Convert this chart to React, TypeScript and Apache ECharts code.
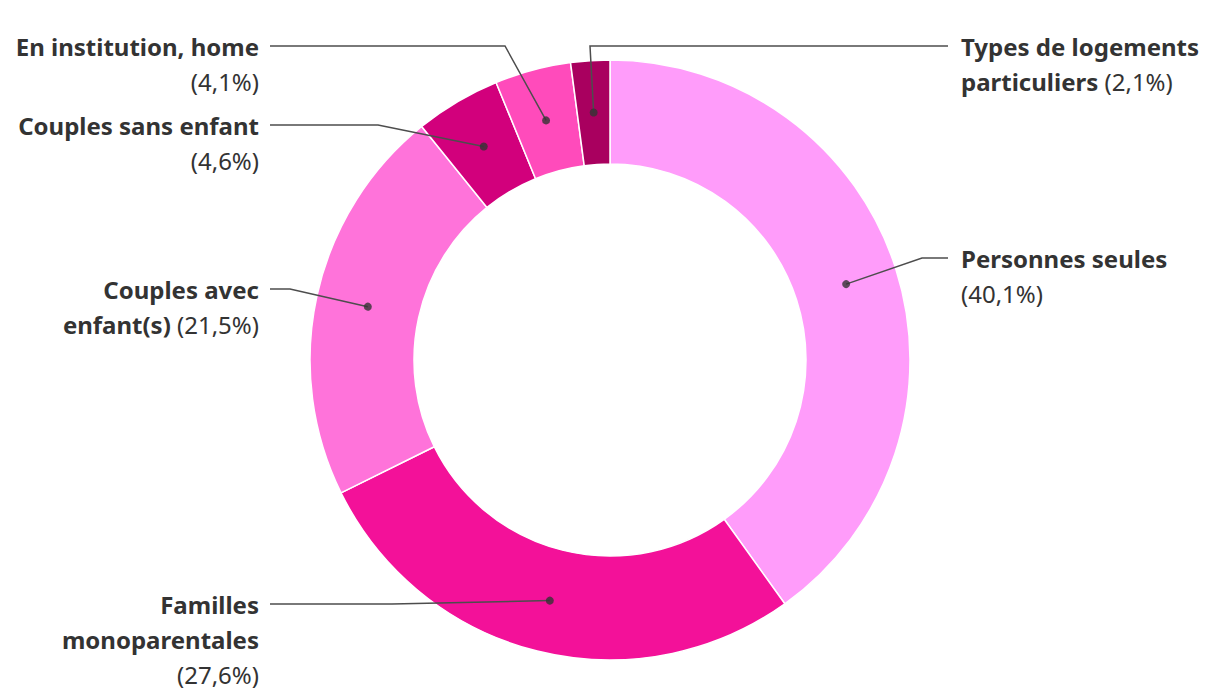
import React, { useEffect, useRef } from "react";
import * as echarts from "echarts";

const categories = [
  "Personnes seules",
  "Familles monoparentales",
  "Couples avec enfant(s)",
  "Couples sans enfant",
  "En institution, home",
  "Types de logements particuliers",
];
const values = [40.1, 27.6, 21.5, 4.6, 4.1, 2.1];
const colors = ["#ff9cfa", "#f31199", "#ff73da", "#d2007c", "#ff4bbb", "#a9005f"];

// how each label's name is broken into lines, and whether the share sits on its own line
const nameLines = [
  ["Personnes seules"],
  ["Familles", "monoparentales"],
  ["Couples avec", "enfant(s)"],
  ["Couples sans enfant"],
  ["En institution, home"],
  ["Types de logements", "particuliers"],
];
const pctOwnLine = [true, true, false, true, true, false];

// label placement (chart pixels)
const labelPlace = [
  { x: 953, y: 233, align: "left", bend: [914, 250], end: 940 },
  { x: 251, y: 579, align: "right", bend: [384, 596], end: 262 },
  { x: 251, y: 264, align: "right", bend: [282, 281], end: 262 },
  { x: 251, y: 100, align: "right", bend: [370, 117], end: 262 },
  { x: 251, y: 21, align: "right", bend: [497, 38], end: 262 },
  { x: 953, y: 21, align: "left", bend: [582, 38], end: 940 },
];

const CX = 602;
const CY = 352;
const R_IN = 196;
const R_OUT = 300;
const R_MID = (R_IN + R_OUT) / 2;
const FS = 24;
const LH = 35;

export default function App() {
  const ref = useRef<HTMLDivElement>(null);
  useEffect(() => {
    if (!ref.current) return;
    const chart = echarts.init(ref.current, null, { renderer: "svg" });
    const total = values.reduce((a, b) => a + b, 0);
    const mids: number[] = [];
    let cum = 0;
    values.forEach((v) => {
      mids.push(cum + v / 2);
      cum += v;
    });
    const fmtPct = (v: number) => "(" + v.toFixed(1).replace(".", ",") + "%)";

    const pieBase = {
      type: "pie",
      center: [CX, CY],
      radius: [R_IN, R_OUT],
      startAngle: 90,
      clockwise: true,
      emphasis: { disabled: true },
    };

    chart.setOption({
      animation: false,
      polar: { center: [CX, CY], radius: R_OUT },
      angleAxis: { type: "value", min: 0, max: total, startAngle: 90, clockwise: true, show: false },
      radiusAxis: { type: "value", min: 0, max: R_OUT, show: false },
      series: [
        {
          ...pieBase,
          z: 2,
          data: categories.map((c, i) => ({ name: c, value: values[i], itemStyle: { color: colors[i] } })),
          itemStyle: { borderColor: "#ffffff", borderWidth: 1.5 },
          label: { show: false },
          labelLine: { show: false },
        },
        {
          ...pieBase,
          z: 5,
          silent: true,
          data: categories.map((c, i) => ({ name: c, value: values[i] })),
          itemStyle: { color: "rgba(0,0,0,0)", borderWidth: 0 },
          label: {
            show: true,
            position: "outside",
            color: "#333333",
            fontFamily: "Noto Sans",
            fontSize: FS,
            lineHeight: LH,
            formatter: (p: any) => {
              const i = p.dataIndex;
              const lines = nameLines[i].map((l) => "{b|" + l + "}");
              const pct = "{p|" + fmtPct(values[i]) + "}";
              if (pctOwnLine[i]) lines.push(pct);
              else lines[lines.length - 1] += " " + pct;
              return lines.join("\n");
            },
            rich: {
              b: { fontFamily: "Noto Sans", fontSize: FS, fontWeight: "bold", color: "#333333", lineHeight: LH },
              p: { fontFamily: "Noto Sans", fontSize: FS, fontWeight: "normal", color: "#333333", lineHeight: LH },
            },
          },
          labelLine: { show: true, showAbove: true, lineStyle: { color: "#4d4d4d", width: 1.5 } },
          labelLayout: (params: any) => {
            const i = params.dataIndex;
            const lp = labelPlace[i];
            const th = (mids[i] / total) * Math.PI * 2;
            const dot = [CX + R_MID * Math.sin(th), CY - R_MID * Math.cos(th)];
            return {
              x: lp.x,
              y: lp.y,
              align: lp.align,
              verticalAlign: "top",
              labelLinePoints: [dot, lp.bend, [lp.end, lp.bend[1]]],
            };
          },
        },
        {
          type: "scatter",
          coordinateSystem: "polar",
          symbol: "circle",
          symbolSize: 8,
          itemStyle: { color: "#333333" },
          silent: true,
          z: 10,
          data: mids.map((m) => [R_MID, m]),
        },
      ],
    });
    return () => chart.dispose();
  }, []);
  return <div ref={ref} style={{ width: 1204, height: 684 }} />;
}
